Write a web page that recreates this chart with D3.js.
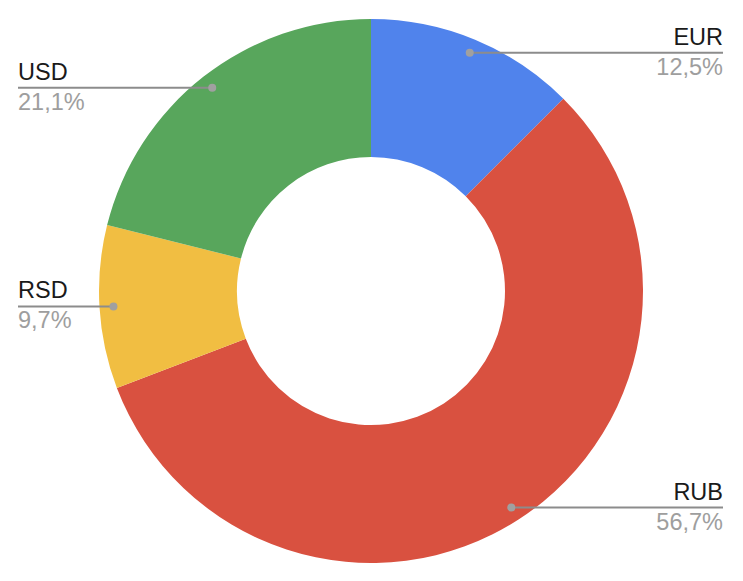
<!DOCTYPE html>
<html><head><meta charset="utf-8">
<script src="https://cdn.jsdelivr.net/npm/d3@7"></script>
<style>html,body{margin:0;padding:0;background:#fff;}svg{display:block;font-family:"Liberation Sans",Arial,sans-serif;}</style>
</head><body>
<svg id="c" width="743" height="581"></svg>
<script>
const categories = ["EUR", "RUB", "RSD", "USD"];
const values = [12.5, 56.7, 9.7, 21.1];
const colors = ["#5083ec", "#d95140", "#f1be42", "#58a65c"];

const W = 743, H = 581, cx = 371, cy = 291, R = 272, r0 = 134;
const svg = d3.select("#c");
const g = svg.append("g").attr("transform", `translate(${cx},${cy})`);
const data = categories.map((c, i) => ({name: c, value: values[i], color: colors[i]}));
const pie = d3.pie().value(d => d.value).sort(null);
const arcs = pie(data);
const arc = d3.arc().innerRadius(r0).outerRadius(R);
g.selectAll("path").data(arcs).join("path").attr("d", arc).attr("fill", d => d.data.color);

const dotR = 258;
arcs.forEach(a => {
  const m = (a.startAngle + a.endAngle) / 2;
  const x = cx + Math.sin(m) * dotR, y = cy - Math.cos(m) * dotR;
  const right = x > cx;
  const lx = right ? 723 : 18;
  svg.append("line").attr("x1", x).attr("y1", y).attr("x2", lx).attr("y2", y)
    .attr("stroke", "#8c8c8c").attr("stroke-width", 2);
  svg.append("circle").attr("cx", x).attr("cy", y).attr("r", 4).attr("fill", "#a0a0a0");
  svg.append("text").attr("x", lx).attr("y", y - 8).attr("text-anchor", right ? "end" : "start")
    .attr("font-size", 23.5).attr("fill", "#1a1a1a").text(a.data.name);
  svg.append("text").attr("x", lx).attr("y", y + 22).attr("text-anchor", right ? "end" : "start")
    .attr("font-size", 23.5).attr("fill", "#9e9e9e").text(a.data.value.toFixed(1).replace(".", ",") + "%");
});
</script>
</body></html>
